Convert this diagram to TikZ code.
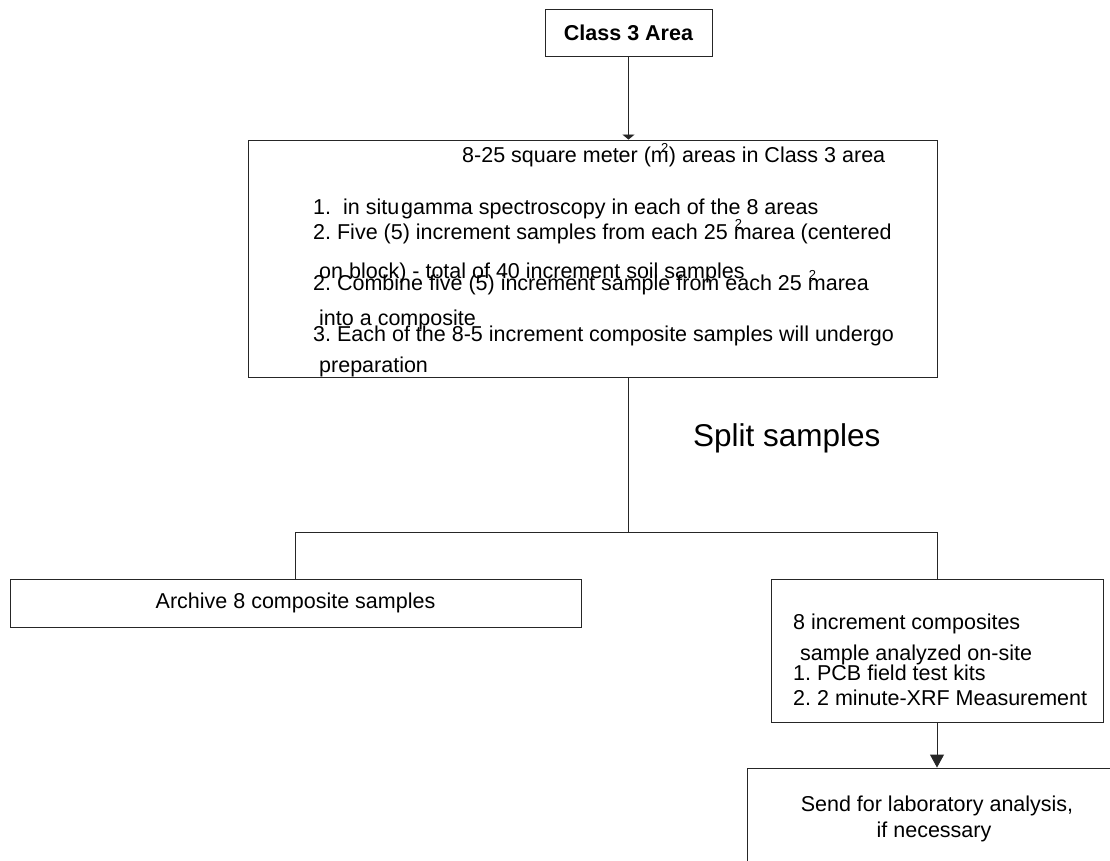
\documentclass[tikz,border=0pt]{standalone}
\usepackage{fontspec}
\setmainfont{Liberation Sans}
\usetikzlibrary{arrows.meta}
\frenchspacing
\newcommand{\bodyfont}{\fontsize{21.5}{25}\selectfont}
\newcommand{\supfont}{\fontsize{13}{13}\selectfont}
\newcommand{\msqa}{m\llap{\raisebox{0.5em}{\supfont 2}\kern0.5pt}}
\newcommand{\msqb}{\rlap{\kern1pt\raisebox{0.5em}{\supfont 2}}m}
\begin{document}
\begin{tikzpicture}[x=1pt,y=-1pt,
  box/.style={draw=black!85, line width=0.9pt, rectangle, inner sep=0pt, font=\bodyfont},
  conn/.style={draw=black!85, line width=0.9pt},
  txt/.style={anchor=base west, inner sep=0pt, font=\bodyfont},
  ctxt/.style={anchor=base, inner sep=0pt, font=\bodyfont}]
\clip (0,0) rectangle (1110,861);
\fill[white] (0,0) rectangle (1110,861);

% boxes
\node[box, minimum width=167pt, minimum height=47pt, font=\bodyfont\bfseries] (top) at (628.5,32.5) {Class 3 Area};
\node[box, minimum width=689pt, minimum height=237pt] (big) at (592.5,258.5) {};
\node[box, minimum width=571pt, minimum height=48pt] (archive) at (295.5,603) {Archive 8 composite samples};
\node[box, minimum width=332pt, minimum height=143pt] (right) at (937,650.5) {};
\node[box, minimum width=380pt, minimum height=98pt] (lab) at (937,817) {};

% big box text
\node[txt] (b0) at (462,163) {8-25 square meter (\msqa) areas in Class 3 area};
\node[txt] (b1) at (313,214) {1.\ \ in situ\kern2pt gamma spectroscopy in each of the 8 areas};
\node[txt] (b2) at (313,239) {2. Five (5) increment samples from each 25 \msqb area (centered};
\node[txt] (b3) at (319,278) {on block) - total of 40 increment soil samples};
\node[txt] (b4) at (313,290) {2. Combine five (5) increment sample from each 25 \msqb area};
\node[txt] (b5) at (319,325) {into a composite};
\node[txt] (b6) at (313,341) {3. Each of the 8-5 increment composite samples will undergo};
\node[txt] (b7) at (319,372) {preparation};

% split label
\node[txt, font=\fontsize{31.5}{36}\selectfont] (split) at (693,446) {Split samples};

% right box text
\node[txt] (r1) at (793,629) {8 increment composites};
\node[txt] (r2) at (800,660) {sample analyzed on-site};
\node[txt] (r3) at (793,680) {1. PCB field test kits};
\node[txt] (r4) at (793,705) {2. 2 minute-XRF Measurement};

% lab text
\node[ctxt] (l1) at (937,811) {Send for laboratory analysis,};
\node[ctxt] (l2) at (934,837) {if necessary};

% connectors
\coordinate (sp) at (628,532);
\draw[conn, -{Triangle[width=12pt,length=5pt]}] (top.south) -- (top.south |- big.north);
\draw[conn] (big.south -| sp) -- (sp);
\draw[conn] (archive.north) -- (archive.north |- sp) -- (right.north |- sp) -- (right.north);
\draw[conn, -{Triangle[width=14pt,length=13pt]}] (right.south) -- (lab.north);
\end{tikzpicture}
\end{document}
